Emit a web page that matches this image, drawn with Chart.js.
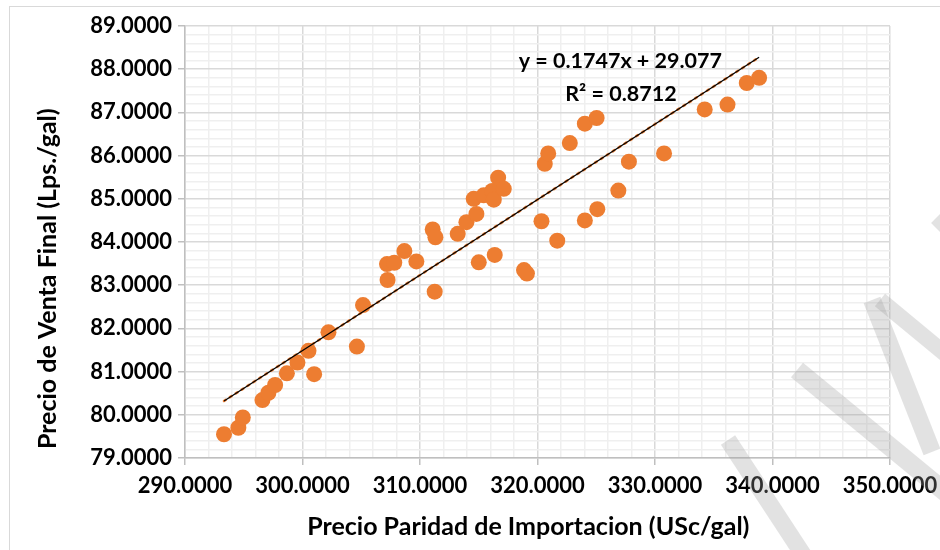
<!DOCTYPE html>
<html>
<head>
<meta charset="utf-8">
<script src="https://cdn.jsdelivr.net/npm/chart.js@4.4.1/dist/chart.umd.min.js"></script>
<style>
  html, body { margin: 0; padding: 0; background: #ffffff; }
  #wrap { width: 940px; height: 550px; position: relative; }
</style>
</head>
<body>
<div id="wrap"><canvas id="c" width="940" height="550"></canvas></div>
<script>
// Precio Paridad de Importacion (USc/gal)
const importParity = [
  293.32, 294.54, 294.92, 296.59, 297.10, 297.67, 298.67, 299.57, 300.51, 300.99,
  302.21, 304.63, 305.15, 307.24, 307.19, 307.81, 308.67, 309.69, 311.25, 311.08,
  311.31, 313.21, 313.95, 314.80, 314.57, 315.42, 316.14, 316.28, 316.65, 317.13,
  315.00, 316.36, 318.85, 319.10, 320.34, 320.62, 320.91, 321.68, 322.75, 324.03,
  325.03, 324.03, 325.09, 326.88, 327.78, 330.77, 334.23, 336.17, 337.81, 338.86
];
// Precio de Venta Final (Lps./gal)
const finalPrice = [
  79.55, 79.70, 79.94, 80.34, 80.51, 80.69, 80.96, 81.21, 81.48, 80.94,
  81.91, 81.58, 82.54, 83.12, 83.49, 83.52, 83.79, 83.55, 82.85, 84.29,
  84.11, 84.19, 84.46, 84.65, 85.00, 85.08, 85.18, 84.98, 85.49, 85.23,
  83.53, 83.70, 83.35, 83.27, 84.48, 85.81, 86.05, 84.03, 86.29, 86.74,
  86.87, 84.50, 84.76, 85.19, 85.86, 86.05, 87.07, 87.18, 87.68, 87.80
];

// Linear trendline as reported on the chart
const trendSlope = 0.1747;
const trendIntercept = 29.077;
const trendR2 = 0.8712;

// Axis ranges and tick steps (major / minor)
const xRange = [290, 350];
const xMajorStep = 10;
const xMinorStep = 2;
const yRange = [79, 89];
const yMajorStep = 1;
const yMinorStep = 0.2;

const xTitle = 'Precio Paridad de Importacion (USc/gal)';
const yTitle = 'Precio de Venta Final (Lps./gal)';
const eqLine1 = 'y = ' + trendSlope + 'x + ' + trendIntercept;
const eqLine2 = 'R\u00B2 = ' + trendR2;

const ORANGE = '#ED7D31';
const FONT = 'Lato, Carlito, Calibri, "Open Sans", sans-serif';

const points = importParity.map((x, i) => ({ x: x, y: finalPrice[i] }));
const xMin = Math.min(...importParity);
const xMax = Math.max(...importParity);
const trendPoints = [xMin, xMax].map(x => ({ x: x, y: trendSlope * x + trendIntercept }));

function isMajor(v, step) {
  const r = v / step;
  return Math.abs(r - Math.round(r)) < 1e-6;
}

// Light diagonal strokes of the page watermark in the lower right corner
const watermarkStrokes = [
  { from: [728, 440], to: [804, 556], width: 17 },
  { from: [797, 370], to: [950, 496], width: 19 },
  { from: [872, 300], to: [932, 452], width: 18 },
  { from: [880, 300], to: [950, 358], width: 16 },
  { from: [936, 228], to: [950, 214], width: 14 }
];

const frameAndText = {
  id: 'frameAndText',
  beforeDraw(chart) {
    const ctx = chart.ctx;
    ctx.save();
    ctx.fillStyle = '#ffffff';
    ctx.fillRect(0, 0, chart.width, chart.height);
    ctx.strokeStyle = '#d9d9d9';
    ctx.lineWidth = 1;
    ctx.strokeRect(9.5, 6.5, chart.width + 20, chart.height + 20);
    ctx.restore();
  },
  afterDraw(chart) {
    const ctx = chart.ctx;
    const area = chart.chartArea;
    ctx.save();
    ctx.fillStyle = '#000000';
    ctx.textAlign = 'center';
    ctx.textBaseline = 'middle';
    // axis titles
    ctx.font = 'bold 25px ' + FONT;
    ctx.fillText(xTitle, area.left + (area.right - area.left) * 0.487, 527);
    ctx.save();
    ctx.translate(48, area.top + (area.bottom - area.top) * 0.585);
    ctx.rotate(-Math.PI / 2);
    ctx.fillText(yTitle, 0, 0);
    ctx.restore();
    // trendline equation
    ctx.font = 'bold 21.5px ' + FONT;
    const xs = chart.scales.x, ys = chart.scales.y;
    ctx.fillText(eqLine1, xs.getPixelForValue(327.05), ys.getPixelForValue(88.18));
    ctx.fillText(eqLine2, xs.getPixelForValue(327.1), ys.getPixelForValue(87.43));
    // watermark
    ctx.strokeStyle = 'rgba(160,160,160,0.3)';
    ctx.lineCap = 'butt';
    watermarkStrokes.forEach(s => {
      ctx.lineWidth = s.width;
      ctx.beginPath();
      ctx.moveTo(s.from[0], s.from[1]);
      ctx.lineTo(s.to[0], s.to[1]);
      ctx.stroke();
    });
    ctx.restore();
  }
};

const chart = new Chart(document.getElementById('c'), {
  type: 'scatter',
  data: {
    datasets: [
      {
        label: 'Lineal',
        type: 'line',
        data: trendPoints,
        borderColor: '#000000',
        borderWidth: 1.3,
        pointRadius: 0,
        fill: false,
        order: 0
      },
      {
        label: 'Tendencia',
        type: 'line',
        data: trendPoints,
        borderColor: ORANGE,
        borderWidth: 2.6,
        borderDash: [2, 5],
        borderCapStyle: 'round',
        pointRadius: 0,
        fill: false,
        order: 1
      },
      {
        label: 'Precio de Venta Final',
        data: points,
        backgroundColor: ORANGE,
        borderColor: ORANGE,
        borderWidth: 0,
        pointRadius: 8,
        pointHoverRadius: 8,
        order: 2
      }
    ]
  },
  options: {
    responsive: false,
    animation: false,
    events: [],
    layout: { padding: { left: 0, top: 26, right: 50, bottom: 0 } },
    plugins: {
      legend: { display: false },
      tooltip: { enabled: false },
      title: { display: false }
    },
    scales: {
      x: {
        type: 'linear',
        min: xRange[0],
        max: xRange[1],
        afterFit(scale) {
          scale.height = 92;
          scale.paddingLeft = 0;
          scale.paddingRight = 0;
        },
        ticks: {
          stepSize: xMinorStep,
          autoSkip: false,
          maxRotation: 0,
          minRotation: 0,
          padding: 8,
          color: '#000000',
          font: { family: FONT, size: 22, weight: 'bold' },
          callback: v => isMajor(v, xMajorStep) ? Number(v).toFixed(4) : ''
        },
        grid: {
          color: c => isMajor(c.tick.value, xMajorStep) ? '#d9d9d9' : '#efefef',
          lineWidth: 1.5,
          tickLength: 7,
          tickColor: c => isMajor(c.tick.value, xMajorStep) ? '#bfbfbf' : 'rgba(0,0,0,0)'
        },
        border: { color: '#bfbfbf', width: 1.5 }
      },
      y: {
        type: 'linear',
        min: yRange[0],
        max: yRange[1],
        afterFit(scale) {
          scale.width = 185;
          scale.paddingTop = 0;
          scale.paddingBottom = 0;
        },
        ticks: {
          stepSize: yMinorStep,
          autoSkip: false,
          padding: 6,
          color: '#000000',
          font: { family: FONT, size: 22, weight: 'bold' },
          callback: v => isMajor(v, yMajorStep) ? Number(v).toFixed(4) : ''
        },
        grid: {
          color: c => isMajor(c.tick.value, yMajorStep) ? '#d9d9d9' : '#efefef',
          lineWidth: 1.5,
          tickLength: 7,
          tickColor: c => isMajor(c.tick.value, yMajorStep) ? '#bfbfbf' : 'rgba(0,0,0,0)'
        },
        border: { color: '#bfbfbf', width: 1.5 }
      }
    }
  },
  plugins: [frameAndText]
});

if (document.fonts && document.fonts.load) {
  Promise.all([
    document.fonts.load('bold 22px Lato'),
    document.fonts.load('bold 25px Lato')
  ]).then(() => chart.update()).catch(() => {});
}
</script>
</body>
</html>
